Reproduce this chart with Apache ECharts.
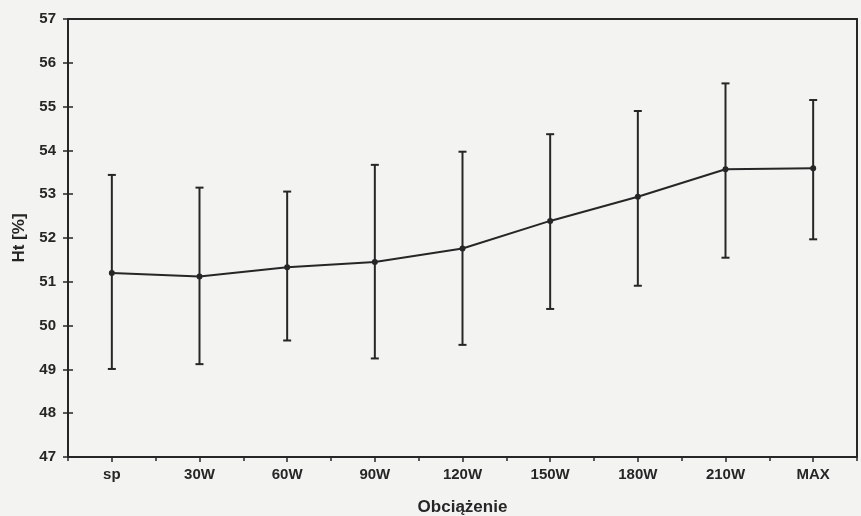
<!DOCTYPE html>
<html>
<head>
<meta charset="utf-8">
<script src="https://cdn.jsdelivr.net/npm/echarts@6/dist/echarts.min.js"></script>
<style>
  html, body { margin: 0; padding: 0; background: #f3f3f1; }
  #chart { width: 861px; height: 516px; }
</style>
</head>
<body>
<div id="chart"></div>
<script>
const categories = ["sp", "30W", "60W", "90W", "120W", "150W", "180W", "210W", "MAX"];
const meanHt = [51.2, 51.12, 51.33, 51.45, 51.76, 52.39, 52.94, 53.57, 53.59];
const upperHt = [53.44, 53.15, 53.06, 53.67, 53.97, 54.37, 54.9, 55.53, 55.15];
const lowerHt = [49.01, 49.12, 49.66, 49.25, 49.56, 50.38, 50.91, 51.55, 51.97];

const ink = "#262626";
const font = { fontFamily: "Liberation Sans", fontWeight: "bold", fontSize: 15, color: ink };
const nameFont = { ...font, fontSize: 17 };
const tickStyle = { color: ink, width: 1.5 };

const chart = echarts.init(document.querySelector("#chart"));

chart.setOption({
  backgroundColor: "#f3f3f1",
  animation: false,
  grid: {
    left: 68, right: 4, top: 19, bottom: 59,
    outerBoundsMode: "none",
    show: true, borderColor: ink, borderWidth: 2,
  },
  xAxis: [
    {
      type: "category",
      data: categories,
      name: "Obciążenie",
      nameLocation: "middle",
      nameGap: 42,
      nameTextStyle: nameFont,
      axisLine: { show: true, lineStyle: { color: ink, width: 2 } },
      axisTick: { show: true, alignWithLabel: true, length: 5, lineStyle: tickStyle },
      axisLabel: { ...font, margin: 10 },
    },
    {
      type: "category",
      data: categories,
      position: "bottom",
      axisLine: { show: false },
      axisTick: { show: true, length: 4, lineStyle: tickStyle },
      axisLabel: { show: false },
    },
  ],
  yAxis: [
    {
      type: "value",
      min: 47, max: 57, interval: 1,
      name: "Ht [%]",
      nameLocation: "middle",
      nameRotate: 90,
      nameGap: 40,
      nameTextStyle: nameFont,
      splitLine: { show: false },
      axisLine: { show: true, lineStyle: { color: ink, width: 2 } },
      axisTick: { show: true, length: 5, lineStyle: tickStyle },
      axisLabel: { ...font, margin: 12 },
    },
    {
      type: "value",
      min: 47, max: 57, interval: 1,
      position: "left",
      splitLine: { show: false },
      axisLine: { show: false },
      axisTick: { show: true, inside: true, length: 5, lineStyle: tickStyle },
      axisLabel: { show: false },
    },
  ],
  series: [
    {
      type: "custom",
      data: categories.map((c, i) => [i, lowerHt[i], upperHt[i]]),
      renderItem: (params, api) => {
        const lo = api.coord([api.value(0), api.value(1)]);
        const hi = api.coord([api.value(0), api.value(2)]);
        const cap = 4;
        const style = { stroke: ink, lineWidth: 2 };
        return {
          type: "group",
          children: [
            { type: "line", shape: { x1: hi[0], y1: hi[1], x2: lo[0], y2: lo[1] }, style },
            { type: "line", shape: { x1: hi[0] - cap, y1: hi[1], x2: hi[0] + cap, y2: hi[1] }, style },
            { type: "line", shape: { x1: lo[0] - cap, y1: lo[1], x2: lo[0] + cap, y2: lo[1] }, style },
          ],
        };
      },
      z: 2,
    },
    {
      type: "line",
      data: meanHt,
      symbol: "circle",
      symbolSize: 6,
      itemStyle: { color: ink },
      lineStyle: { color: ink, width: 2 },
      z: 3,
    },
  ],
});
</script>
</body>
</html>
